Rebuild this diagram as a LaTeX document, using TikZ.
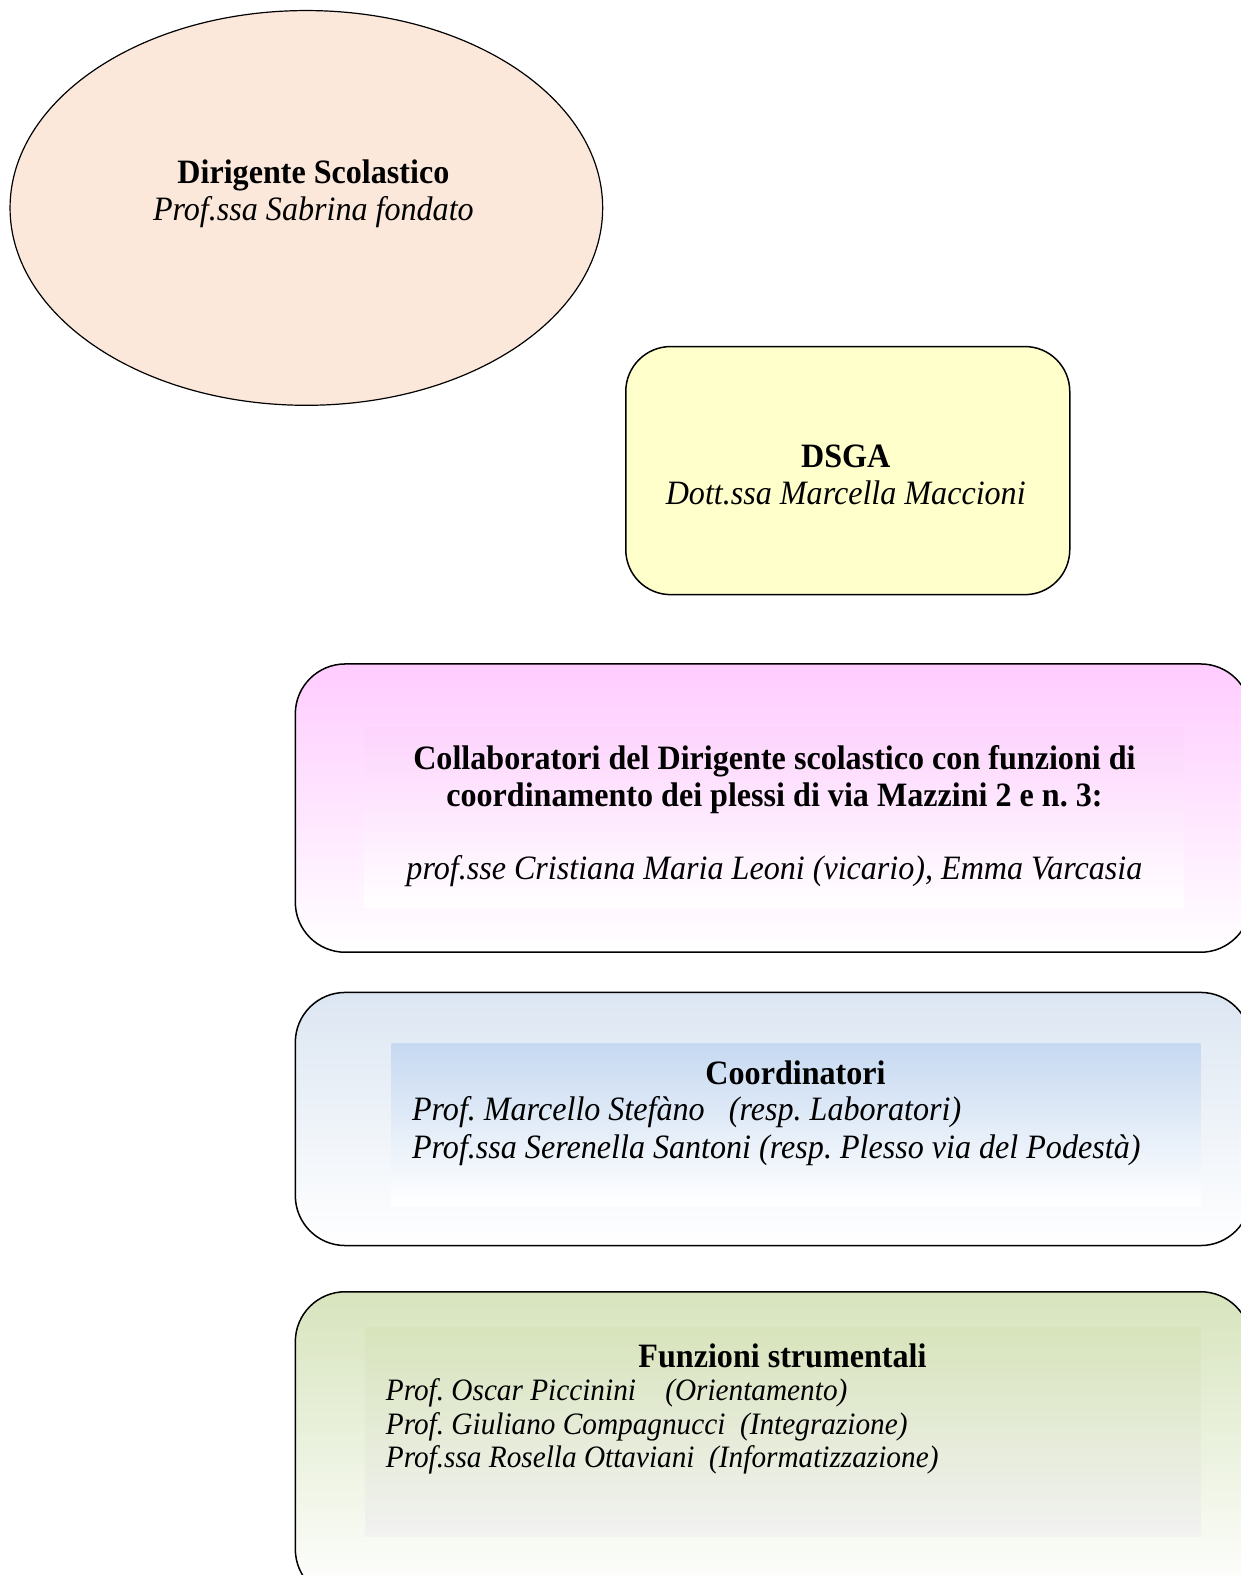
\documentclass[tikz,border=0pt]{standalone}
\usepackage{fontspec}
\setmainfont{Liberation Serif}[FakeStretch=0.94]
\usetikzlibrary{shapes.geometric}
\definecolor{peach}{HTML}{FCE8DA}
\definecolor{lemon}{HTML}{FFFFCC}
\definecolor{lilac}{HTML}{FFCCFF}
\definecolor{lilacin}{HTML}{FDD4FD}
\definecolor{sky}{HTML}{DCE6F2}
\definecolor{skyin}{HTML}{C6D9F1}
\definecolor{sage}{HTML}{D7E4BD}
\definecolor{sagein}{HTML}{D8E4BC}
\definecolor{ash}{HTML}{F2F2F2}
\frenchspacing
\begin{document}
\begin{tikzpicture}[x=1pt,y=-1pt,scale=1.005,transform shape,
	box/.style={draw, line width=1.5pt, rounded corners=50pt, inner sep=0pt},
	panel/.style={inner sep=0pt},
	txt/.style={inner sep=0pt, font=\fontsize{34}{37}\selectfont}]
	\useasboundingbox (0,0) rectangle (1235,1568);

	% dirigente
	\node[draw, ellipse, line width=1.2pt, fill=peach, inner sep=0pt,
		minimum width=590pt, minimum height=393pt] (ds) at (305,207) {};
	\node[txt, align=center] (dst) at (312,193) {\textbf{Dirigente Scolastico}\\\textit{Prof.ssa Sabrina fondato}};

	% dsga
	\node[box, rounded corners=45pt, fill=lemon, minimum width=442pt, minimum height=247pt] (dsga) at (844,468.5) {};
	\node[txt, align=center] (dsgat) at (842,472.5) {\textbf{DSGA}\\\textit{Dott.ssa Marcella Maccioni}};

	% collaboratori
	\node[box, top color=lilac, bottom color=white, minimum width=951pt, minimum height=287pt] (coll) at (769.5,804.5) {};
	\node[panel, top color=lilacin, bottom color=white, minimum width=815pt, minimum height=179pt] (collp) at (770.5,813.5) {};
	\node[txt, align=center, font=\fontsize{34}{37}\selectfont\bfseries] (collt) at (771,776) {Collaboratori del Dirigente scolastico con funzioni di\\coordinamento dei plessi di via Mazzini 2 e n. 3:};
	\node[txt, font=\fontsize{34}{37}\selectfont\itshape] (colln) at (771,867) {prof.sse Cristiana Maria Leoni (vicario), Emma Varcasia};

	% coordinatori
	\node[box, top color=sky, bottom color=white, minimum width=951pt, minimum height=252pt] (coord) at (769.5,1114) {};
	\node[panel, top color=skyin, bottom color=white, minimum width=805pt, minimum height=161pt] (coordp) at (792.5,1119.5) {};
	\node[txt, font=\fontsize{34}{37}\selectfont\bfseries] (coordt) at (792,1068) {Coordinatori};
	\node[txt, anchor=west, align=left, font=\fontsize{34}{37}\selectfont\itshape] (coordn) at (410,1126)
		{Prof. Marcello Stefàno~~~(resp. Laboratori)\\Prof.ssa Serenella Santoni (resp. Plesso via del Podestà)};

	% funzioni strumentali
	\node[box, top color=sage, bottom color=white, minimum width=951pt, minimum height=306pt] (fs) at (769.5,1439) {};
	\node[panel, top color=sagein, bottom color=ash, minimum width=831pt, minimum height=208pt] (fsp) at (779.5,1426) {};
	\node[txt, font=\fontsize{34}{37}\selectfont\bfseries] (fst) at (779,1350) {Funzioni strumentali};
	\node[txt, anchor=west, align=left, font=\fontsize{31}{33.5}\selectfont\itshape] (fsn) at (384,1420)
		{Prof. Oscar Piccinini~~~~(Orientamento)\\Prof. Giuliano Compagnucci~~(Integrazione)\\Prof.ssa Rosella Ottaviani~~(Informatizzazione)};
\end{tikzpicture}
\end{document}
